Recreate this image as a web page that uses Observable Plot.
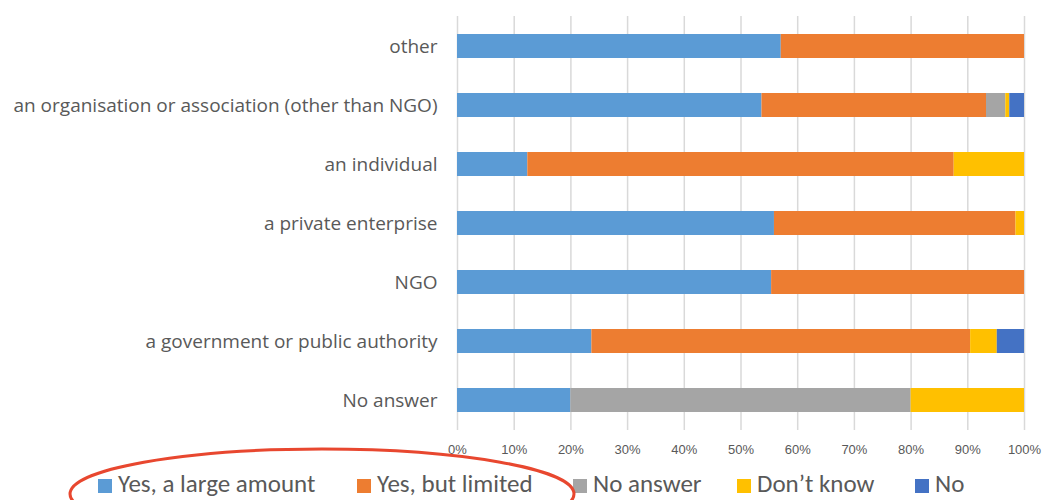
<!DOCTYPE html>
<html>
<head>
<meta charset="utf-8">
<script src="https://cdn.jsdelivr.net/npm/d3@7"></script>
<script src="https://cdn.jsdelivr.net/npm/@observablehq/plot@0.6"></script>
<style>
  body { margin: 0; background: #fff; }
  #wrap { position: relative; width: 1044px; height: 500px; overflow: hidden; }
  #legend { position: absolute; left: 0; top: 471px; width: 1044px; height: 26px;
    font-family: "Carlito", "Liberation Sans", Arial, sans-serif;
    font-size: 25px; color: #595959; line-height: 26px; white-space: nowrap; }
  #legend .item { position: absolute; top: 0; height: 26px; display: flex; align-items: center; }
  #legend .sw { width: 14px; height: 14px; margin-right: 6px; margin-top: 3px; display: inline-block; }
  #annot { position: absolute; left: 0; top: 0; pointer-events: none; }
</style>
</head>
<body>
<div id="wrap">
  <div id="chart"></div>
  <div id="legend"></div>
  <svg id="annot" width="1044" height="500"><ellipse cx="322" cy="494" rx="252" ry="45" fill="none" stroke="#E8472F" stroke-width="3"/></svg>
</div>
<script>
const categories = [
  "other",
  "an organisation or association (other than NGO)",
  "an individual",
  "a private enterprise",
  "NGO",
  "a government or public authority",
  "No answer"
];
const seriesNames = ["Yes, a large amount", "Yes, but limited", "No answer", "Don\u2019t know", "No"];
const yesLarge   = [57.1, 53.7, 12.4, 55.9, 55.4, 23.7, 20];
const yesLimited = [42.9, 39.6, 75.2, 42.6, 44.6, 66.8, 0];
const noAnswer   = [0,    3.4,  0,    0,    0,    0,    60];
const dontKnow   = [0,    0.7,  12.4, 1.5,  0,    4.7,  20];
const no         = [0,    2.6,  0,    0,    0,    4.8,  0];
const xTicks = [0, 10, 20, 30, 40, 50, 60, 70, 80, 90, 100];
const colors = ["#5B9BD5", "#ED7D31", "#A5A5A5", "#FFC000", "#4472C4"];

// legend layout (pixel left edge of each legend entry)
const legendLeft = [98, 357, 573, 737, 915];

const seriesValues = [yesLarge, yesLimited, noAnswer, dontKnow, no];
const rows = [];
seriesValues.forEach((vals, si) => {
  vals.forEach((v, ci) => rows.push({category: categories[ci], series: seriesNames[si], value: v}));
});

const chart = Plot.plot({
  width: 1044,
  height: 465,
  marginLeft: 457,
  marginRight: 20,
  marginTop: 16,
  marginBottom: 35,
  style: {fontFamily: "'Open Sans', sans-serif", background: "#fff"},
  x: {domain: [0, 100], ticks: xTicks, tickFormat: d => d + "%", label: null},
  y: {domain: categories, paddingInner: 0.6, paddingOuter: 0.3, label: null},
  color: {domain: seriesNames, range: colors},
  marks: [
    Plot.gridX(xTicks, {stroke: "#d9d9d9", strokeOpacity: 1, strokeWidth: 1.5}),
    Plot.barX(rows, {x: "value", y: "category", fill: "series", order: seriesNames}),
    Plot.axisX({ticks: xTicks, tickFormat: d => d + "%", tickSize: 0, tickPadding: 14,
      fontSize: 13, fill: "#595959", label: null,
      fontFamily: "'Liberation Sans Narrow', 'Arial Narrow', sans-serif"}),
    Plot.axisY({tickSize: 0, tickPadding: 20, fontSize: 19, fill: "#595959", label: null})
  ]
});
document.getElementById("chart").appendChild(chart);

const legend = document.getElementById("legend");
seriesNames.forEach((name, i) => {
  const item = document.createElement("div");
  item.className = "item";
  item.style.left = legendLeft[i] + "px";
  const sw = document.createElement("span");
  sw.className = "sw";
  sw.style.background = colors[i];
  item.appendChild(sw);
  item.appendChild(document.createTextNode(name));
  legend.appendChild(item);
});
</script>
</body>
</html>
